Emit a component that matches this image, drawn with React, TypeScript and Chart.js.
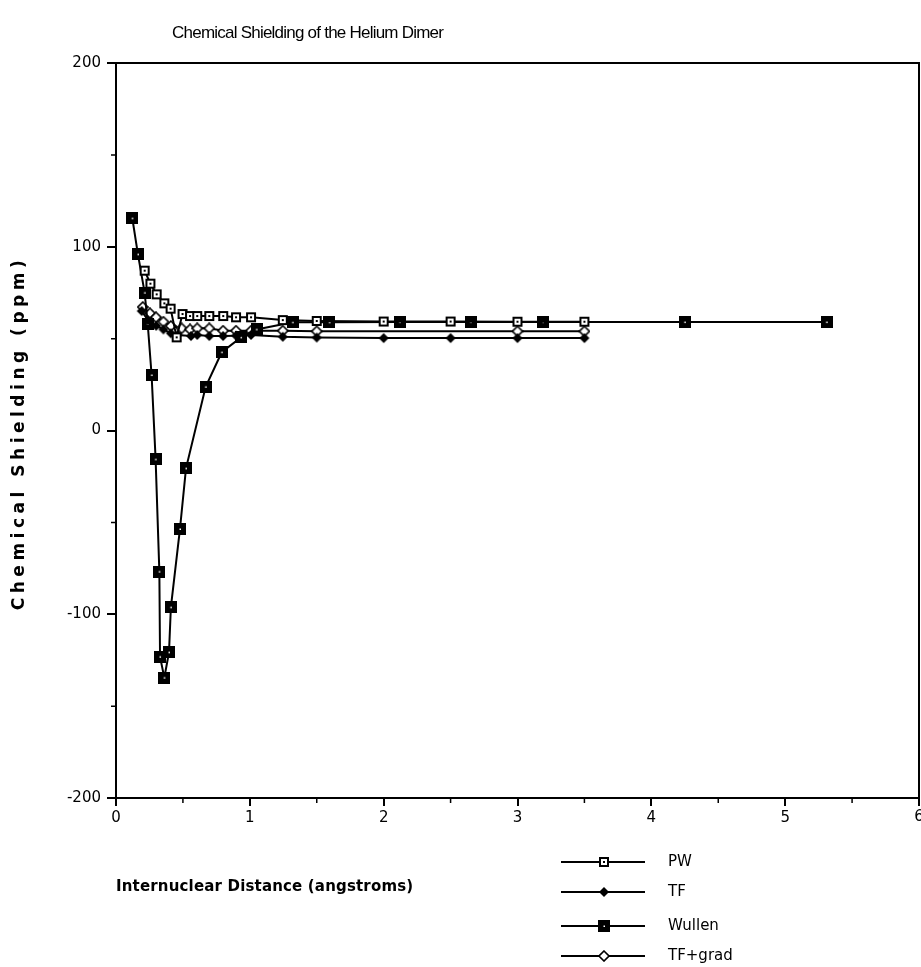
import React, { useEffect, useRef } from "react";
import { Chart, registerables } from "chart.js";
Chart.register(...registerables);

const chartTitle = "Chemical Shielding of the Helium Dimer";
const xAxisTitle = "Internuclear Distance (angstroms)";
const yAxisTitle = "Chemical Shielding (ppm)";
const seriesNames = ["PW", "TF", "Wullen", "TF+grad"];
const xTickValues = [0, 1, 2, 3, 4, 5, 6];
const yTickValues = [-200, -100, 0, 100, 200];
const xMinorTicks = [0.5, 1.5, 2.5, 3.5, 4.5, 5.5];
const yMinorTicks = [-150, -50, 50, 150];

const pwX = [0.214, 0.257, 0.304, 0.361, 0.408, 0.453, 0.497, 0.553, 0.607, 0.697, 0.801, 0.897, 1.009, 1.246, 1.5, 2.0, 2.5, 3.0, 3.5];
const pwY = [87, 79.9, 74.1, 69.2, 66.3, 50.7, 63.4, 62.3, 62.3, 62.3, 62.3, 61.6, 61.6, 60.1, 59.6, 59.3, 59.3, 59.2, 59.2];

const tfX = [0.192, 0.24, 0.3, 0.354, 0.41, 0.46, 0.56, 0.607, 0.697, 0.8, 0.897, 1.009, 1.246, 1.5, 2.0, 2.5, 3.0, 3.5];
const tfY = [65, 60, 57, 55, 52.9, 52, 51.4, 52, 51.4, 51.4, 51.6, 52, 51, 50.6, 50.3, 50.3, 50.3, 50.3];

const wullenX = [0.122, 0.164, 0.214, 0.237, 0.266, 0.296, 0.324, 0.329, 0.361, 0.396, 0.41, 0.478, 0.523, 0.67, 0.79, 0.934, 1.05, 1.32, 1.595, 2.12, 2.65, 3.19, 4.25, 5.31];
const wullenY = [115.5, 95.9, 75, 58, 30.2, -15.7, -76.8, -123.1, -134.5, -120.7, -96.2, -53.6, -20.6, 23.8, 42.6, 50.7, 55, 58.9, 58.9, 59, 59, 59, 59, 59];

const tfgX = [0.2, 0.254, 0.299, 0.354, 0.41, 0.49, 0.553, 0.607, 0.697, 0.8, 0.897, 1.009, 1.246, 1.5, 3.0, 3.5];
const tfgY = [67.2, 63.8, 61.6, 59.2, 56.9, 55.6, 55, 55.6, 55.6, 54.3, 54.3, 54.3, 54.3, 54, 54, 54];

function makeMarker(kind: string): HTMLCanvasElement {
  const c = document.createElement("canvas");
  c.width = 12;
  c.height = 12;
  const g = c.getContext("2d")!;
  if (kind === "openSquare") {
    g.fillStyle = "#000";
    g.fillRect(1, 1, 10, 10);
    g.fillStyle = "#fff";
    g.fillRect(3, 3, 6, 6);
    g.fillStyle = "#000";
    g.fillRect(5, 5, 2, 2);
  } else if (kind === "filledSquare") {
    g.fillStyle = "#000";
    g.fillRect(0, 0, 12, 12);
    g.fillStyle = "#fff";
    g.fillRect(5.5, 5.5, 1.5, 1.5);
  } else if (kind === "filledDiamond") {
    g.fillStyle = "#000";
    g.beginPath();
    g.moveTo(6, 1);
    g.lineTo(11, 6);
    g.lineTo(6, 11);
    g.lineTo(1, 6);
    g.closePath();
    g.fill();
  } else {
    g.fillStyle = "#fff";
    g.strokeStyle = "#000";
    g.lineWidth = 1.6;
    g.beginPath();
    g.moveTo(6, 1);
    g.lineTo(11, 6);
    g.lineTo(6, 11);
    g.lineTo(1, 6);
    g.closePath();
    g.fill();
    g.stroke();
  }
  return c;
}

function setSpacing(ctx: CanvasRenderingContext2D, text: string, targetWidth: number) {
  (ctx as any).letterSpacing = "0px";
  const w = ctx.measureText(text).width;
  const sp = (targetWidth - w) / Math.max(1, text.length - 1);
  (ctx as any).letterSpacing = sp.toFixed(2) + "px";
}

const tickFontSize = 15;
const tickFamily = '"DejaVu Sans", sans-serif';
const lastX = xTickValues[xTickValues.length - 1];

export default function App() {
  const ref = useRef<HTMLCanvasElement | null>(null);
  useEffect(() => {
    document.body.style.margin = "0";
    const canvas = ref.current!;
    const markers = [makeMarker("openSquare"), makeMarker("filledDiamond"), makeMarker("filledSquare"), makeMarker("openDiamond")];
    const xs = [pwX, tfX, wullenX, tfgX];
    const ys = [pwY, tfY, wullenY, tfgY];
    const datasets = seriesNames.map((name, k) => ({
      label: name,
      data: xs[k].map((x, i) => ({ x, y: ys[k][i] })),
      borderColor: "#000",
      backgroundColor: "#000",
      borderWidth: 2,
      pointStyle: markers[k],
      pointRadius: 6,
      tension: 0,
      showLine: true,
    }));

    const decor = {
      id: "decor",
      afterDraw(chart: any) {
        const ctx: CanvasRenderingContext2D = chart.ctx;
        const a = chart.chartArea;
        const sx = chart.scales.x;
        const sy = chart.scales.y;
        ctx.save();
        ctx.strokeStyle = "#000";
        ctx.lineWidth = 2;
        ctx.beginPath();
        ctx.moveTo(a.left, a.top);
        ctx.lineTo(a.right, a.top);
        ctx.lineTo(a.right, a.bottom);
        ctx.stroke();
        ctx.lineWidth = 1.5;
        ctx.beginPath();
        xMinorTicks.forEach((v) => {
          const px = sx.getPixelForValue(v);
          ctx.moveTo(px, a.bottom);
          ctx.lineTo(px, a.bottom + 5);
        });
        yMinorTicks.forEach((v) => {
          const py = sy.getPixelForValue(v);
          ctx.moveTo(a.left, py);
          ctx.lineTo(a.left - 5, py);
        });
        ctx.stroke();

        ctx.fillStyle = "#000";
        // last x tick label, drawn here so it runs off the page edge like the original
        ctx.font = `${tickFontSize}px ${tickFamily}`;
        ctx.textAlign = "center";
        ctx.textBaseline = "top";
        ctx.fillText(String(lastX), sx.getPixelForValue(lastX), a.bottom + 12);

        ctx.textBaseline = "middle";
        ctx.textAlign = "left";
        ctx.font = '17px "Liberation Sans", Arial, sans-serif';
        setSpacing(ctx, chartTitle, 272);
        ctx.fillText(chartTitle, 172, 33);

        ctx.font = 'bold 15px "DejaVu Sans", sans-serif';
        setSpacing(ctx, xAxisTitle, 297);
        ctx.fillText(xAxisTitle, 116, 887);

        ctx.save();
        ctx.translate(20, 433);
        ctx.rotate(-Math.PI / 2);
        ctx.textAlign = "center";
        ctx.font = 'bold 17px "DejaVu Sans", sans-serif';
        setSpacing(ctx, yAxisTitle, 350);
        ctx.fillText(yAxisTitle, 0, 0);
        ctx.restore();

        (ctx as any).letterSpacing = "0px";
        const legendY = [862, 892, 926, 956];
        ctx.font = '15px "DejaVu Sans", sans-serif';
        ctx.lineWidth = 2;
        seriesNames.forEach((name, k) => {
          const y = legendY[k];
          ctx.beginPath();
          ctx.moveTo(561, y);
          ctx.lineTo(645, y);
          ctx.stroke();
          const m = markers[k];
          ctx.drawImage(m, 604 - m.width / 2, y - m.height / 2);
          ctx.fillText(name, 668, y);
        });
        ctx.restore();
      },
    };

    const tickFont = { family: tickFamily, size: tickFontSize };
    const chart = new Chart(canvas, {
      type: "line",
      data: { datasets },
      options: {
        responsive: false,
        animation: false,
        layout: { padding: { top: 63, right: 2, bottom: 967 - 798 - 30, left: 0 } },
        plugins: { legend: { display: false }, tooltip: { enabled: false }, title: { display: false } },
        scales: {
          x: {
            type: "linear",
            min: 0,
            max: 6,
            afterBuildTicks: (s: any) => {
              s.ticks = xTickValues.map((v) => ({ value: v }));
            },
            afterFit: (s: any) => {
              s.height = 30;
              s.paddingLeft = 0;
              s.paddingRight = 0;
            },
            ticks: {
              color: "#000",
              font: tickFont,
              padding: 3,
              maxRotation: 0,
              callback: (v: any) => (v === lastX ? "" : String(v)),
            },
            grid: { display: true, drawOnChartArea: false, drawTicks: true, tickLength: 8, color: "#000", lineWidth: 2 },
            border: { display: true, color: "#000", width: 2 },
          },
          y: {
            type: "linear",
            min: -200,
            max: 200,
            afterBuildTicks: (s: any) => {
              s.ticks = yTickValues.map((v) => ({ value: v }));
            },
            afterFit: (s: any) => {
              s.width = 116;
              s.paddingTop = 0;
              s.paddingBottom = 0;
            },
            ticks: { color: "#000", font: tickFont, padding: 6 },
            grid: { display: true, drawOnChartArea: false, drawTicks: true, tickLength: 9, color: "#000", lineWidth: 2 },
            border: { display: true, color: "#000", width: 2 },
          },
        },
      } as any,
      plugins: [decor],
    });
    return () => chart.destroy();
  }, []);
  return (
    <div style={{ position: "absolute", left: 0, top: 0, width: 921, height: 967, background: "#fff", overflow: "hidden" }}>
      <canvas ref={ref} width={927} height={967} style={{ display: "block" }} />
    </div>
  );
}
